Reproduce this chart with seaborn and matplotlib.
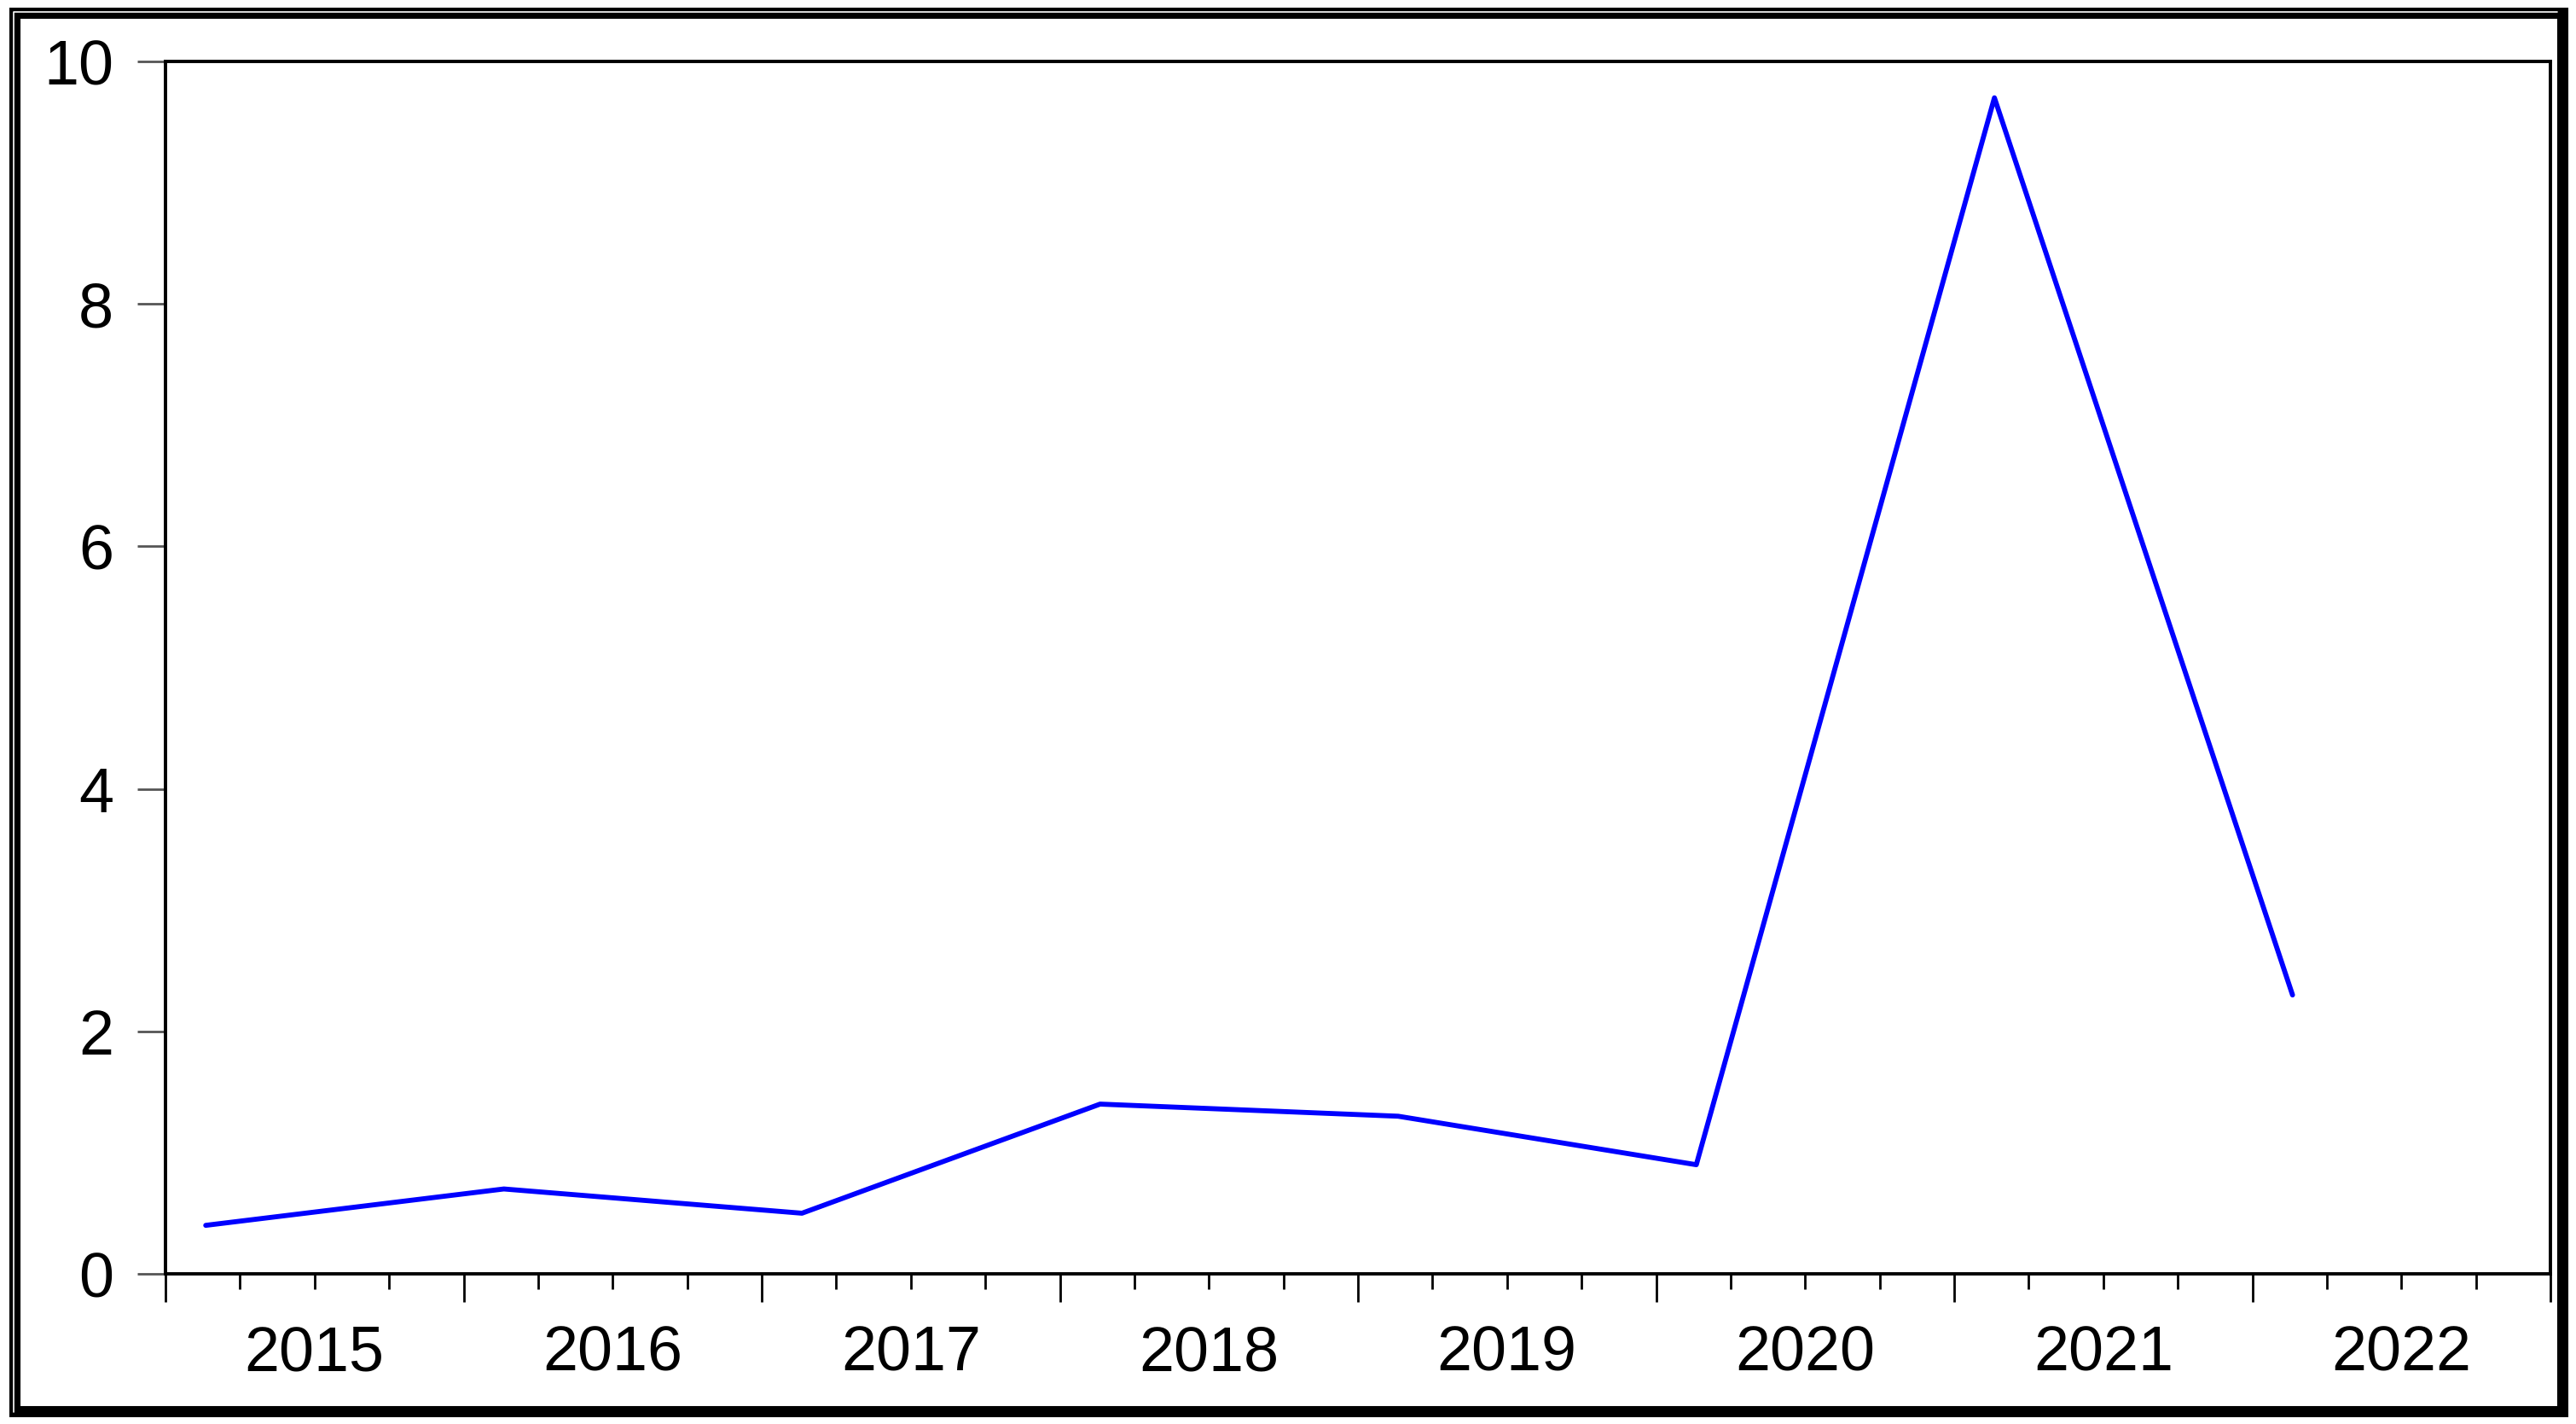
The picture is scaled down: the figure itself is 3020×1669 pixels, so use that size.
import pandas as pd
import seaborn as sns
import matplotlib.pyplot as plt
from matplotlib.patches import Rectangle
from matplotlib.lines import Line2D

# data (one value per year)
years = [2015, 2016, 2017, 2018, 2019, 2020, 2021, 2022]
values = [0.4, 0.7, 0.5, 1.4, 1.3, 0.9, 9.7, 2.3]
y_ticks = [0, 2, 4, 6, 8, 10]

sns.set_style('white')
plt.rcParams['font.family'] = ['Liberation Sans', 'DejaVu Sans']
plt.rcParams['text.color'] = 'black'
plt.rcParams['xtick.labelcolor'] = 'black'
plt.rcParams['ytick.labelcolor'] = 'black'

df = pd.DataFrame({'year': years, 'value': values})
# points sit a little after the start of each year, as in the original
df['pos'] = df['year'] + 0.135

W, H = 3020, 1669
fig = plt.figure(figsize=(W / 100, H / 100), dpi=100)
ax = fig.add_axes([194 / W, 1 - 1493 / H, (2990 - 194) / W, (1493 - 72) / H])

sns.lineplot(data=df, x='pos', y='value', ax=ax, color='#0000ff', linewidth=4.2)

ax.set_xlim(years[0], years[-1] + 1)
ax.set_ylim(0, 10)
ax.set_xlabel('')
ax.set_ylabel('')

# x axis: long ticks at year boundaries, short ticks at quarters, labels mid-year
major = list(range(years[0], years[-1] + 2))
minor, minor_labels = [], []
for y in years:
    for q in (0.25, 0.5, 0.75):
        minor.append(y + q)
        minor_labels.append(str(y) if q == 0.5 else '')
ax.set_xticks(major)
ax.set_xticklabels([''] * len(major))
ax.set_xticks(minor, labels=minor_labels, minor=True)
ax.tick_params(axis='x', which='major', direction='out', length=24, width=2.0,
               color='black', bottom=True)
ax.tick_params(axis='x', which='minor', direction='out', length=13, width=2.0,
               color='black', bottom=True, pad=30, labelsize=53,
               labelcolor='black')

ax.set_yticks(y_ticks)
ax.set_yticklabels([str(v) for v in y_ticks])
ax.tick_params(axis='y', which='major', direction='out', length=24, width=2.0,
               color='#555555', left=True, pad=20, labelsize=53,
               labelcolor='black')

for s in ax.spines.values():
    s.set_visible(True)
    s.set_color('black')
    s.set_linewidth(2.8)

# black picture frame around the whole figure
fig.add_artist(Rectangle((16.5 / W, 15.5 / H), 1 - 33 / W, 1 - 31 / H,
                         transform=fig.transFigure, fill=False,
                         edgecolor='black', linewidth=9.4, joinstyle='miter'))
# thin white line inside the frame on the top and left edges
fig.add_artist(Line2D([16 / W, 16 / W, 1 - 22 / W], [14 / H, 1 - 14 / H, 1 - 14 / H],
                      transform=fig.transFigure, color='white', linewidth=1.2))

fig.savefig('out.png', dpi=100)
